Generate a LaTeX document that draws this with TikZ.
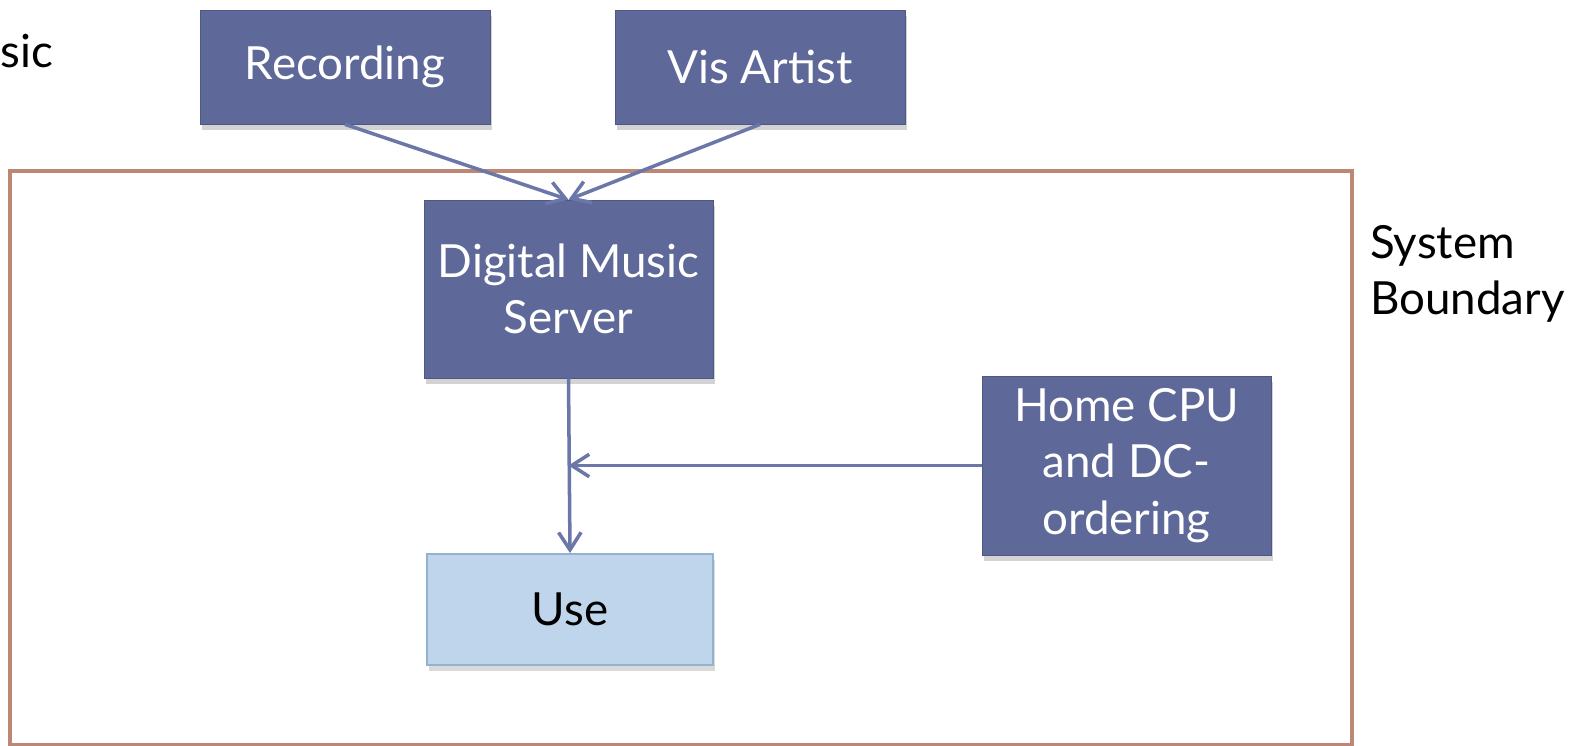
\documentclass[tikz,border=0pt]{standalone}
\usepackage{fontspec}
\setmainfont{Lato}
\usetikzlibrary{arrows.meta,shadows}
\definecolor{Slate}{HTML}{5E6899}
\definecolor{SlateEdge}{HTML}{4F5884}
\definecolor{Sky}{HTML}{BED5EC}
\definecolor{SkyEdge}{HTML}{93B2CE}
\definecolor{Wire}{HTML}{6B77A8}
\definecolor{Border}{HTML}{BD8775}
\begin{document}
\begin{tikzpicture}[
  x=0.02cm,y=-0.02cm,
  every node/.style={font=\fontsize{26}{32}\selectfont},
  dark/.style={draw=SlateEdge,fill=Slate,text=white,align=center,inner sep=0pt,minimum width=5.8cm,drop shadow={shadow xshift=0.4mm,shadow yshift=-1.2mm,opacity=0.35}},
  light/.style={draw=SkyEdge,line width=1pt,fill=Sky,align=center,inner sep=0pt,minimum width=5.72cm,minimum height=2.22cm,drop shadow={shadow xshift=0.4mm,shadow yshift=-1.2mm,opacity=0.3}},
  arr/.style={-{Straight Barb[length=3.5mm,width=4.5mm]},line width=2pt,color=Wire}
]
\useasboundingbox (0,0) rectangle (1572,746);
% system boundary
\draw[Border,line width=2pt] (10,171) rectangle (1352,745);
\node[anchor=base west,inner sep=0pt] (cut) at (0,68) {sic};
\node[anchor=west,align=left] (sysb) at (1364,274) {System\\Boundary};
\node[dark,minimum height=2.28cm] (rec) at (345,67) {Recording};
\node[dark,minimum height=2.28cm] (vis) at (760,67) {Vis Artist};
\node[dark,minimum width=5.78cm,minimum height=3.56cm] (dms) at (568.5,289) {Digital Music\\Server};
\node[dark,minimum width=5.78cm,minimum height=3.58cm] (home) at (1126.5,465.5) {Home CPU\\and DC-\\ordering};
\node[light] (use) at (570,609.5) {Use};
\draw[arr] (rec.south) -- (dms.north);
\draw[arr] (vis.south) -- (dms.north);
\draw[arr] (dms.south) -- (use.north);
\draw[arr] (home) -- (home -| dms);
\end{tikzpicture}
\end{document}
